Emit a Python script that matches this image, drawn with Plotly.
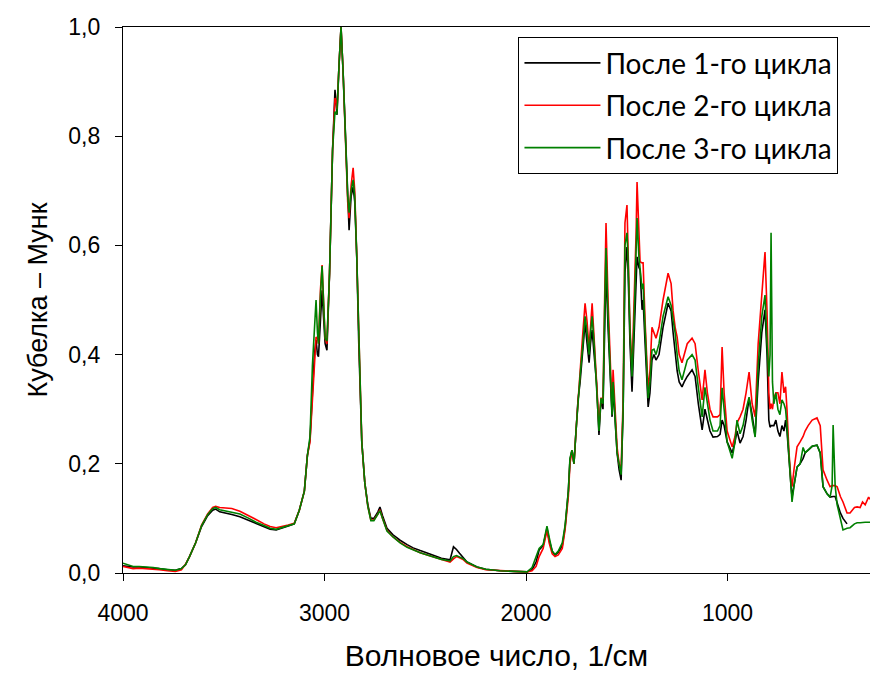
import plotly.graph_objects as go

wavenumber = [4000, 3980, 3950, 3920, 3880, 3850, 3820, 3780, 3740, 3710, 3690, 3670, 3640, 3610, 3580,
              3555, 3540, 3520, 3490, 3460, 3420, 3380, 3340, 3300, 3270, 3240, 3210, 3180, 3150, 3125,
              3100, 3085, 3072, 3060, 3050, 3042, 3035, 3030, 3020, 3012, 3005, 2997, 2988, 2975, 2960,
              2948, 2940, 2938, 2928, 2918, 2908, 2895, 2885, 2878, 2868, 2858, 2850, 2840, 2830, 2815,
              2800, 2785, 2770, 2755, 2735, 2725, 2712, 2690, 2660, 2625, 2590, 2560, 2525, 2490, 2450,
              2420, 2377, 2360, 2345, 2330, 2310, 2293, 2243, 2200, 2129, 2060, 1995, 1970, 1950, 1935,
              1915, 1896, 1885, 1870, 1856, 1840, 1820, 1806, 1790, 1782, 1772, 1762, 1752, 1742, 1732,
              1720, 1707, 1697, 1687, 1680, 1672, 1662, 1650, 1638, 1628, 1618, 1610, 1603, 1593, 1583,
              1573, 1568, 1558, 1548, 1538, 1528, 1518, 1509, 1499, 1494, 1484, 1474, 1464, 1454, 1449,
              1440, 1434, 1424, 1419, 1409, 1394, 1385, 1375, 1365, 1355, 1340, 1320, 1295, 1280, 1270,
              1260, 1250, 1240, 1226, 1215, 1200, 1176, 1161, 1145, 1126, 1112, 1100, 1087, 1072, 1050,
              1037, 1027, 1017, 1002, 977, 963, 953, 938, 923, 908, 893, 878, 863, 848, 830,
              814, 804, 795, 789, 784, 777, 770, 760, 750, 740, 730, 720, 712, 705, 695,
              685, 680, 670, 655, 640, 625, 615, 600, 580, 556, 540, 526, 506, 491, 481,
              476, 466, 456, 440, 427, 407, 392, 370, 357, 342, 330, 317, 300, 293]

cycle1 = [.013, .012, .011, .011, .010, .010, .008, .006, .005, .008, .015, .030, .055, .085, .105,
          .115, .117, .112, .110, .107, .103, .097, .090, .084, .080, .079, .082, .086, .090, .115,
          .150, .215, .244, .33, .40, .427, .40, .396, .47, .518, .47, .42, .408, .55, .775,
          .885, .85, .839, .93, 1.0, .92, .78, .67, .628, .69, .707, .68, .58, .42, .24,
          .165, .125, .100, .100, .112, .121, .105, .082, .070, .060, .052, .046, .041, .037, .031,
          .027, .024, .048, .043, .036, .028, .020, .011, .007, .004, .003, .002, .006, .020, .042,
          .050, .082, .060, .040, .033, .038, .050, .084, .15, .207, .225, .20, .26, .317, .348,
          .40, .458, .42, .385, .42, .445, .40, .348, .253, .317, .30, .45, .56, .45, .372,
          .286, .34, .286, .22, .189, .17, .30, .55, .597, .56, .42, .332, .43, .55, .579,
          .56, .555, .482, .50, .42, .304, .33, .39, .40, .39, .40, .45, .494, .48, .44,
          .40, .37, .35, .341, .35, .36, .372, .36, .31, .262, .30, .28, .26, .249, .25,
          .254, .28, .27, .24, .22, .24, .26, .238, .25, .28, .32, .29, .25, .35, .44,
          .482, .40, .28, .267, .27, .27, .27, .28, .26, .25, .27, .26, .28, .26, .20,
          .16, .139, .16, .194, .20, .21, .22, .225, .232, .234, .22, .158, .145, .139, .14,
          .14, .14, .128, .11, .10, .09, None, None, None, None, None, None, None, None]

cycle2 = [.012, .010, .008, .009, .008, .006, .006, .004, .003, .006, .016, .030, .055, .088, .108,
          .120, .122, .120, .119, .118, .113, .106, .098, .090, .085, .083, .085, .088, .091, .115,
          .150, .215, .240, .32, .38, .432, .43, .42, .52, .564, .50, .43, .42, .55, .775,
          .87, .86, .85, .93, 1.0, .92, .78, .68, .65, .71, .742, .70, .58, .42, .24,
          .165, .122, .097, .097, .108, .116, .100, .078, .066, .056, .048, .043, .037, .033, .028,
          .024, .020, .026, .030, .028, .024, .018, .010, .006, .004, .003, .002, .004, .012, .030,
          .045, .078, .055, .035, .030, .033, .045, .080, .14, .20, .225, .20, .26, .32, .377,
          .43, .494, .46, .41, .45, .494, .43, .36, .271, .32, .32, .50, .641, .50, .38,
          .30, .372, .30, .23, .20, .19, .32, .641, .674, .60, .45, .37, .48, .62, .716,
          .60, .57, .568, .568, .46, .335, .37, .45, .44, .43, .45, .50, .549, .53, .48,
          .45, .432, .40, .385, .40, .42, .43, .42, .37, .317, .372, .33, .30, .286, .286,
          .29, .414, .33, .26, .231, .25, .275, .286, .30, .33, .368, .31, .286, .42, .52,
          .588, .48, .33, .30, .31, .30, .32, .33, .33, .31, .368, .33, .341, .30, .22,
          .17, .158, .19, .231, .24, .25, .26, .27, .28, .284, .27, .189, .17, .158, .16,
          .16, .16, .158, .14, .13, .11, .11, .12, .121, .12, .13, .125, .139, .135]

cycle3 = [.018, .016, .012, .012, .011, .010, .008, .006, .005, .008, .015, .030, .055, .087, .107,
          .118, .120, .116, .114, .112, .108, .101, .093, .087, .082, .080, .083, .087, .090, .115,
          .150, .215, .250, .38, .46, .50, .44, .42, .51, .562, .50, .43, .425, .55, .775,
          .845, .84, .845, .93, 1.0, .92, .79, .69, .66, .70, .72, .69, .58, .42, .24,
          .165, .122, .096, .096, .108, .114, .100, .077, .066, .055, .047, .042, .037, .033, .028,
          .025, .022, .030, .032, .030, .026, .020, .011, .007, .004, .003, .002, .010, .030, .045,
          .052, .086, .065, .040, .034, .040, .055, .087, .15, .21, .225, .20, .26, .32, .36,
          .41, .47, .44, .40, .44, .47, .42, .35, .26, .32, .31, .48, .595, .47, .37,
          .29, .35, .29, .22, .20, .18, .30, .60, .623, .58, .44, .36, .46, .60, .65,
          .58, .56, .52, .53, .44, .32, .35, .408, .41, .40, .42, .47, .506, .49, .463,
          .44, .40, .37, .354, .37, .39, .40, .39, .34, .286, .34, .31, .28, .26, .26,
          .27, .339, .30, .24, .21, .24, .28, .255, .27, .30, .322, .28, .249, .38, .47,
          .509, .42, .36, .40, .623, .35, .31, .33, .30, .29, .317, .31, .30, .27, .21,
          .15, .13, .16, .194, .20, .23, .22, .225, .232, .234, .22, .158, .145, .139, .16,
          .271, .16, .125, .10, .079, .082, .083, .09, .092, .092, .093, .093, .093, .093]

series_names = ["После 1-го цикла", "После 2-го цикла", "После 3-го цикла"]
series_colors = ["#000000", "#FF0000", "#008000"]
x_ticks = [4000, 3000, 2000, 1000]
y_ticks = [0.0, 0.2, 0.4, 0.6, 0.8, 1.0]

fig = go.Figure()
for name, vals, col in zip(series_names, [cycle1, cycle2, cycle3], series_colors):
    fig.add_trace(go.Scatter(x=wavenumber, y=vals, mode="lines", name=name,
                             legendgroup=name,
                             line=dict(color=col, width=1.6), connectgaps=False))

tick_font = dict(family="Liberation Sans, Arial, sans-serif", size=23, color="#000000")
xtitle_font = dict(family="Liberation Sans, Arial, sans-serif", size=30, color="#000000")
ytitle_font = dict(family="Liberation Sans, Arial, sans-serif", size=27, color="#000000")

fig.update_layout(
    width=870, height=675,
    margin=dict(l=123, r=0, t=27, b=102),
    paper_bgcolor="white", plot_bgcolor="white",
    separators=", ",
    font=tick_font,
    showlegend=True,
    legend=dict(x=0.529, y=0.982, xanchor="left", yanchor="top",
                bordercolor="#000000", borderwidth=1.3, bgcolor="white",
                font=dict(family="Lato, Open Sans, sans-serif", size=28, color="#000000"),
                tracegroupgap=3, itemwidth=76, entrywidth=330, entrywidthmode="pixels"),
    xaxis=dict(range=[4000, 293], tickvals=x_ticks, showgrid=False, zeroline=False,
               showline=True, linecolor="#000000", linewidth=1.3, mirror=True,
               ticks="outside", ticklen=7, tickcolor="#000000", tickwidth=1.3,
               tickfont=tick_font, ticklabelstandoff=12,
               title=dict(text="Волновое число, 1/см", font=xtitle_font, standoff=20)),
    yaxis=dict(range=[0, 1], tickvals=y_ticks, tickformat=".1f", showgrid=False, zeroline=False,
               showline=True, linecolor="#000000", linewidth=1.3,
               ticks="outside", ticklen=7, tickcolor="#000000", tickwidth=1.3,
               tickfont=tick_font, ticklabelstandoff=10,
               title=dict(text="Кубелка – Мунк", font=ytitle_font, standoff=12)),
)

fig.write_html("out.html")
